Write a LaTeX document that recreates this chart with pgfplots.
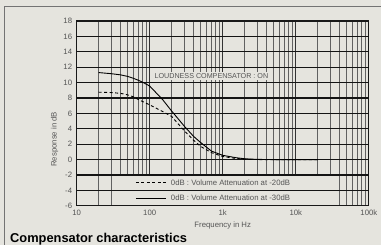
\documentclass[border=0pt]{standalone}
\usepackage{pgfplots}
\pgfplotsset{compat=1.18}
\usepackage{fontspec}
\setmainfont{Liberation Sans}
\definecolor{bg}{HTML}{E5E4DE}
\definecolor{txt}{HTML}{555555}
\pgfplotstableread{
f v
20 11.3
30 11.15
40 11.0
50 10.8
60 10.55
70 10.3
80 10.05
100 9.55
150 7.8
200 6.3
300 4.3
400 3.0
500 2.2
700 1.1
1000 0.55
1500 0.25
2000 0.1
3000 0.02
5000 0
20000 0
}\solid
\pgfplotstableread{
f v
20 8.75
30 8.7
40 8.6
50 8.4
60 8.15
70 7.8
100 7.1
150 6.25
200 5.6
300 3.7
400 2.5
500 1.7
700 0.9
1000 0.4
1500 0.15
2000 0.05
3000 0
20000 0
}\dashed
\begin{document}
\begin{tikzpicture}[x=1bp,y=1bp]
\fill[bg] (0,0) rectangle (381,245);
\draw[black!55, line width=0.9bp] (4.3,0) -- (4.3,239) -- (381,239);
\node[anchor=base west, font=\bfseries\fontsize{12.9}{14}\selectfont, inner sep=0] at (10,2.7) {Compensator characteristics};
\begin{axis}[at={(76.7bp,39bp)}, anchor=south west, scale only axis,
  width=292.6bp, height=185bp,
  xmode=log, xmin=10, xmax=100000, ymin=-6, ymax=18,
  ytick={-6,-4,-2,0,2,4,6,8,10,12,14,16,18},
  xtick={10,100,1000,10000,100000},
  xticklabels={10,100,1k,10k,100k},
  minor xtick={20,30,40,50,60,70,80,90,200,300,400,500,600,700,800,900,2000,3000,4000,5000,6000,7000,8000,9000,20000,30000,40000,50000,60000,70000,80000,90000},
  grid=both,
  major grid style={black!80, line width=1.2bp},
  minor grid style={black!62, line width=1.2bp},
  ymajorgrids=false, ymajorticks=true,
  major tick length=0pt, minor tick length=0pt,
  axis line style={black!90, line width=1.1bp},
  tick label style={font=\fontsize{7.8}{9}\selectfont, text=txt},
  /pgf/number format/assume math mode=true,
  xlabel={Frequency in Hz}, ylabel={Response in dB},
  label style={font=\fontsize{7.8}{9}\selectfont, text=txt},
  xlabel style={at={(axis description cs:0.5,0)}, anchor=north, yshift=-13bp},
  ylabel style={at={(axis description cs:0,0.36)}, anchor=south, yshift=15bp},
  xticklabel style={yshift=-1bp},
  yticklabel style={xshift=-1bp},
  extra y ticks={-4,-2,0,2,4,6,8,10,12,14,16},
  extra y tick labels={},
  extra y tick style={grid=major, major grid style={black!92, line width=1.2bp}},
]
\addplot[black, line width=0.9bp] table[x=f, y=v] {\solid};
\addplot[black, line width=0.9bp, dash pattern=on 3bp off 2.5bp] table[x=f, y=v] {\dashed};
\fill[bg] (axis cs:32.5,-5.9) rectangle (axis cs:37000,-2);
\draw[black!92, line width=1.2bp] (axis cs:32,-2) -- (axis cs:38000,-2);
\draw[black!92, line width=1.2bp] (axis cs:32,-4) -- (axis cs:38000,-4);
\draw[black, line width=0.9bp, dash pattern=on 3bp off 2.5bp] (axis cs:64.7,-3) -- (axis cs:166,-3);
\draw[black, line width=0.9bp] (axis cs:64.7,-5) -- (axis cs:166,-5);
\node[anchor=west, inner sep=0, font=\fontsize{7.8}{9}\selectfont, text=txt] at (axis cs:194.6,-3) {0dB : Volume Attenuation at -20dB};
\node[anchor=west, inner sep=0, font=\fontsize{7.8}{9}\selectfont, text=txt] at (axis cs:194.6,-5) {0dB : Volume Attenuation at -30dB};
\node[fill=bg, inner xsep=1.5bp, inner ysep=1.5bp, font=\fontsize{7.2}{9}\selectfont, text=txt] at (axis cs:700,10.9) {LOUDNESS COMPENSATOR : ON};
\end{axis}
\end{tikzpicture}
\end{document}
